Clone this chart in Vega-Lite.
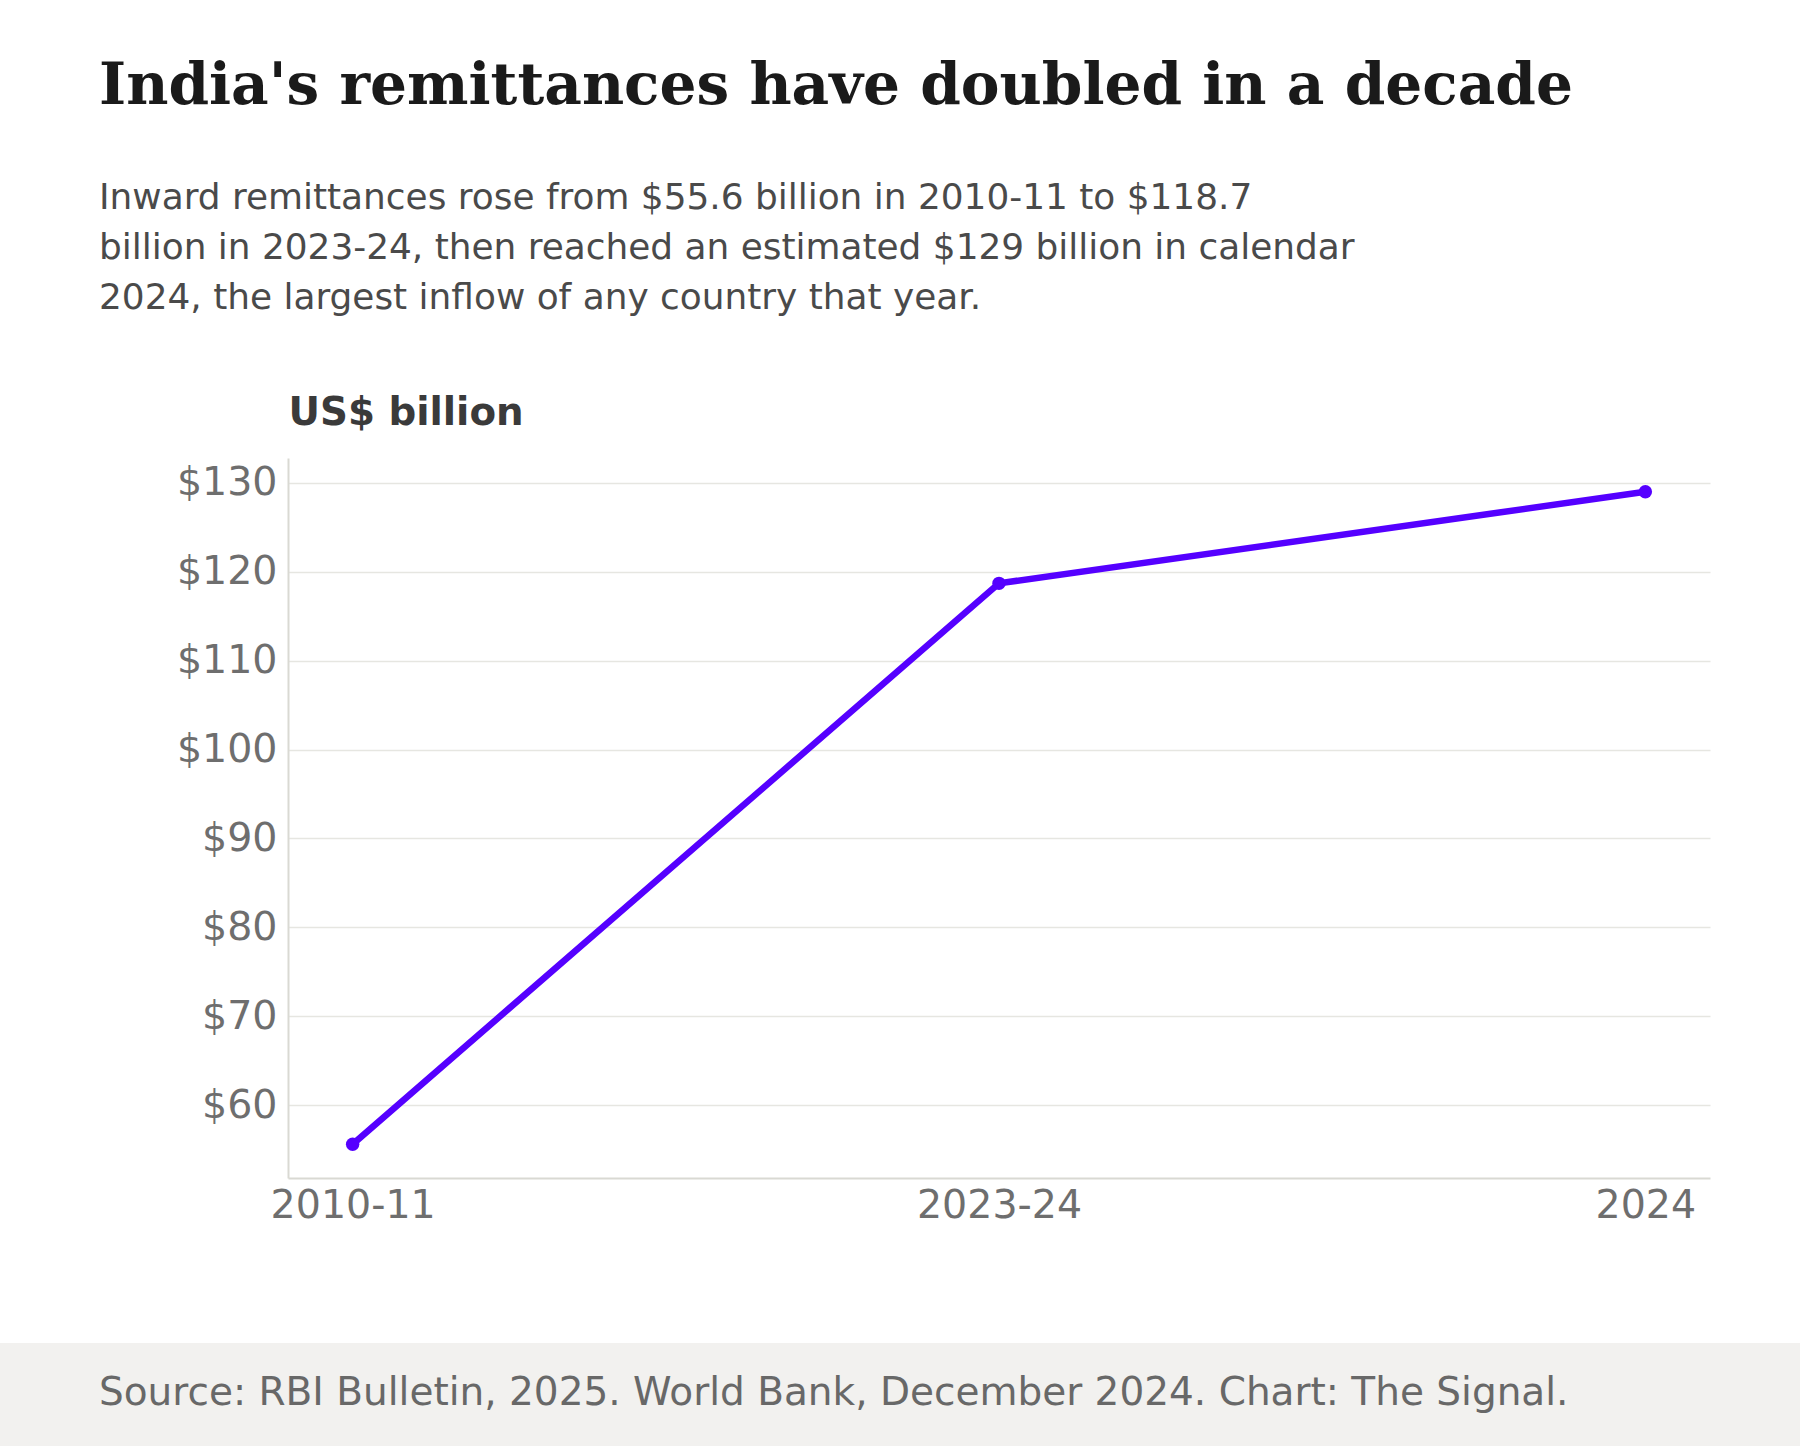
{
  "$schema": "https://vega.github.io/schema/vega-lite/v6.json",
  "padding": {"left": 0, "right": 0, "top": 58, "bottom": 0},
  "background": "#ffffff",
  "config": {
    "font": "DejaVu Sans",
    "view": {"stroke": null}
  },
  "title": {
    "text": "India's remittances have doubled in a decade",
    "subtitle": [
      "Inward remittances rose from $55.6 billion in 2010-11 to $118.7",
      "billion in 2023-24, then reached an estimated $129 billion in calendar",
      "2024, the largest inflow of any country that year."
    ],
    "anchor": "start",
    "frame": "group",
    "dx": -189,
    "font": "DejaVu Serif",
    "fontSize": 58.1,
    "fontWeight": "bold",
    "color": "#1a1a1a",
    "subtitleFont": "DejaVu Sans",
    "subtitleFontSize": 35.9,
    "subtitleColor": "#4a4a4a",
    "subtitleLineHeight": 50,
    "subtitlePadding": 65,
    "offset": 76.7
  },
  "spacing": 0,
  "vconcat": [
    {
      "width": 1422,
      "height": 720,
      "data": {
        "values": [
          {"period": "2010-11", "remittances": 55.6},
          {"period": "2023-24", "remittances": 118.7},
          {"period": "2024", "remittances": 129}
        ]
      },
      "mark": {
        "type": "line",
        "color": "#5500ff",
        "strokeWidth": 6.5,
        "point": {"filled": true, "size": 180, "color": "#5500ff"}
      },
      "encoding": {
        "x": {
          "field": "period",
          "type": "ordinal",
          "sort": null,
          "scale": {"type": "point", "padding": 0.1},
          "axis": {
            "title": null,
            "labelAngle": 0,
            "ticks": false,
            "grid": false,
            "domainColor": "#d9d9d3",
            "domainWidth": 2,
            "labelFontSize": 39.5,
            "labelColor": "#6e6e6e",
            "labelPadding": 8,
            "minExtent": 165,
            "maxExtent": 165,
            "titlePadding": 0
          }
        },
        "y": {
          "field": "remittances",
          "type": "quantitative",
          "scale": {"domain": [51.8, 132.8], "nice": false, "zero": false},
          "axis": {
            "title": "US$ billion",
            "values": [60, 70, 80, 90, 100, 110, 120, 130],
            "format": "$.0f",
            "ticks": false,
            "grid": true,
            "gridColor": "#e6e6e1",
            "gridWidth": 1.5,
            "domainColor": "#d9d9d3",
            "domainWidth": 2,
            "labelFontSize": 39.5,
            "labelColor": "#6e6e6e",
            "labelPadding": 11,
            "minExtent": 288,
            "maxExtent": 288,
            "titlePadding": 0,
            "titleAngle": 0,
            "titleX": 0,
            "titleY": -34,
            "titleAlign": "left",
            "titleBaseline": "alphabetic",
            "titleFontSize": 38.8,
            "titleFontWeight": "bold",
            "titleColor": "#3a3a3a"
          }
        }
      }
    },
    {
      "width": 1512,
      "height": 104,
      "data": {"values": [{"band": "footer"}]},
      "mark": {"type": "rect", "color": "#f2f1ef"},
      "encoding": {
        "x": {
          "datum": 0,
          "type": "quantitative",
          "scale": {"domain": [0, 1], "range": [-288, 1512]},
          "axis": null
        },
        "x2": {"datum": 1}
      },
      "title": {
        "text": "Source: RBI Bulletin, 2025. World Bank, December 2024. Chart: The Signal.",
        "anchor": "start",
        "frame": "group",
        "orient": "top",
        "dx": -189,
        "offset": -70,
        "font": "DejaVu Sans",
        "fontSize": 39,
        "fontWeight": "normal",
        "color": "#686868"
      }
    }
  ]
}
